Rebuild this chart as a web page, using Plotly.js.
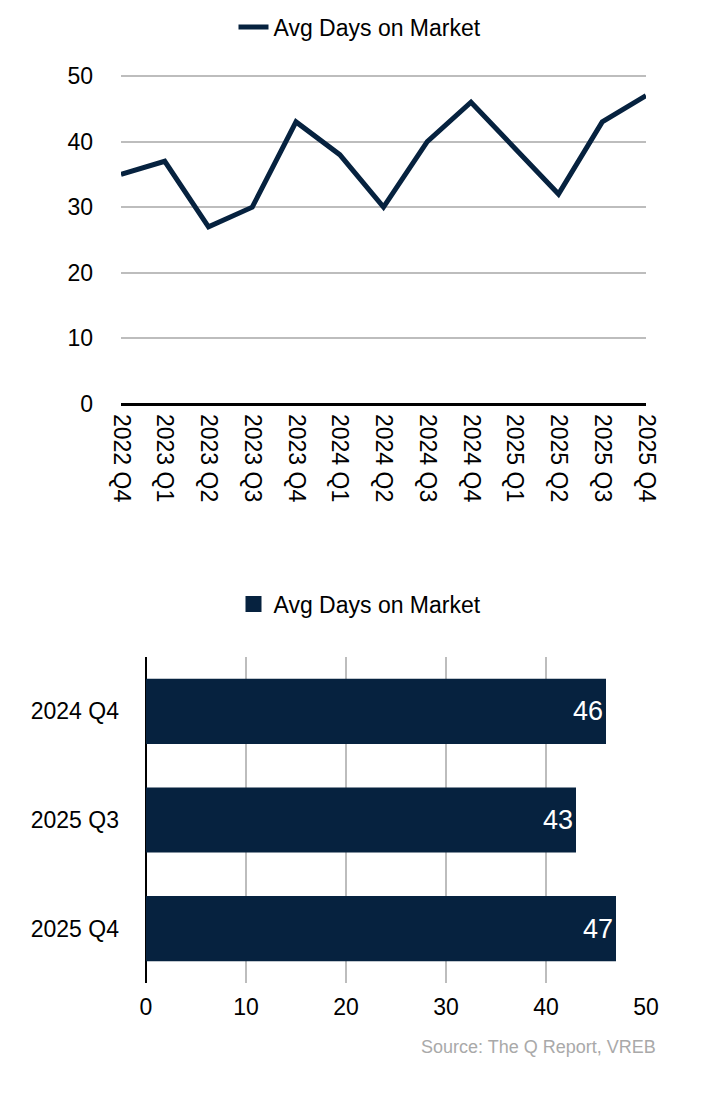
<!DOCTYPE html>
<html>
<head>
<meta charset="utf-8">
<script src="https://cdn.plot.ly/plotly-3.0.1.min.js"></script>
<style>
  html, body { margin: 0; padding: 0; background: #ffffff; }
  #chart { width: 720px; height: 1100px; }
</style>
</head>
<body>
<div id="chart"></div>
<script>
// ---- Data ----
const quarters = ['2022 Q4', '2023 Q1', '2023 Q2', '2023 Q3', '2023 Q4', '2024 Q1', '2024 Q2',
                  '2024 Q3', '2024 Q4', '2025 Q1', '2025 Q2', '2025 Q3', '2025 Q4'];
const avgDaysOnMarket = [35, 37, 27, 30, 43, 38, 30, 40, 46, 39, 32, 43, 47];

const compareQuarters = ['2024 Q4', '2025 Q3', '2025 Q4'];
const compareDays = [46, 43, 47];

const seriesName = 'Avg Days on Market';
const sourceText = 'Source: The Q Report, VREB';

// ---- Styles ----
const FONT = '"Liberation Sans", Arial, Helvetica, sans-serif';
const NAVY = '#06223f';
const GRID = '#bdbdbd';
const W = 720, H = 1100;
const px = v => v / W;
const py = v => 1 - v / H;

const traces = [
  {
    type: 'scatter',
    mode: 'lines',
    x: quarters,
    y: avgDaysOnMarket,
    name: seriesName,
    line: { color: NAVY, width: 5 },
    xaxis: 'x', yaxis: 'y',
    legend: 'legend',
    hoverinfo: 'x+y'
  },
  {
    type: 'bar',
    orientation: 'h',
    x: compareDays,
    y: compareQuarters,
    name: seriesName,
    marker: { color: NAVY },
    text: compareDays.map(String),
    textposition: 'inside',
    insidetextanchor: 'end',
    textfont: { color: '#ffffff', size: 27, family: FONT },
    xaxis: 'x2', yaxis: 'y2',
    showlegend: false,
    hoverinfo: 'x+y'
  },
  {
    // legend key for the bar series (square swatch)
    type: 'scatter',
    mode: 'markers',
    x: [null],
    y: [null],
    name: seriesName,
    marker: { color: NAVY, symbol: 'square', size: 20 },
    xaxis: 'x2', yaxis: 'y2',
    legend: 'legend2',
    hoverinfo: 'skip'
  }
];

const layout = {
  width: W,
  height: H,
  margin: { l: 0, r: 0, t: 0, b: 0 },
  paper_bgcolor: '#ffffff',
  plot_bgcolor: '#ffffff',
  font: { family: FONT, size: 23, color: '#000000' },
  showlegend: true,
  bargap: 0.4,
  xaxis: {
    domain: [px(121), px(646)],
    anchor: 'y',
    type: 'category',
    range: [0, 12],
    tickangle: 90,
    showgrid: false,
    showline: false,
    zeroline: false,
    ticks: '',
    ticklabelstandoff: 9,
    tickfont: { size: 23 },
    fixedrange: true
  },
  yaxis: {
    domain: [py(404), py(72.7)],
    anchor: 'x',
    range: [0, 50.5],
    tickvals: [0, 10, 20, 30, 40, 50],
    showgrid: true,
    gridcolor: GRID,
    gridwidth: 2,
    zeroline: true,
    zerolinecolor: '#000000',
    zerolinewidth: 3,
    showline: false,
    ticks: '',
    ticklabelstandoff: 27,
    tickfont: { size: 23 },
    fixedrange: true
  },
  xaxis2: {
    domain: [px(146), px(646)],
    anchor: 'y2',
    range: [0, 50],
    dtick: 10,
    showgrid: true,
    gridcolor: GRID,
    gridwidth: 2,
    zeroline: true,
    zerolinecolor: '#000000',
    zerolinewidth: 2,
    showline: false,
    ticks: '',
    ticklabelstandoff: 8,
    tickfont: { size: 23 },
    fixedrange: true
  },
  yaxis2: {
    domain: [py(983), py(657)],
    anchor: 'x2',
    type: 'category',
    autorange: 'reversed',
    showgrid: false,
    zeroline: false,
    showline: false,
    ticks: '',
    ticklabelstandoff: 26,
    tickfont: { size: 23 },
    fixedrange: true
  },
  legend: {
    orientation: 'h',
    x: 0.5, xanchor: 'center',
    y: py(27), yanchor: 'middle',
    font: { size: 23 },
    bgcolor: 'rgba(0,0,0,0)'
  },
  legend2: {
    orientation: 'h',
    x: 0.5, xanchor: 'center',
    y: py(604), yanchor: 'middle',
    font: { size: 23 },
    itemsizing: 'trace',
    bgcolor: 'rgba(0,0,0,0)'
  },
  annotations: [
    {
      text: sourceText,
      xref: 'paper', yref: 'paper',
      x: px(658), xanchor: 'right',
      y: py(1047), yanchor: 'middle',
      showarrow: false,
      font: { size: 18, color: '#a9a9a9', family: FONT }
    }
  ]
};

Plotly.newPlot('chart', traces, layout, { displayModeBar: false });
</script>
</body>
</html>
